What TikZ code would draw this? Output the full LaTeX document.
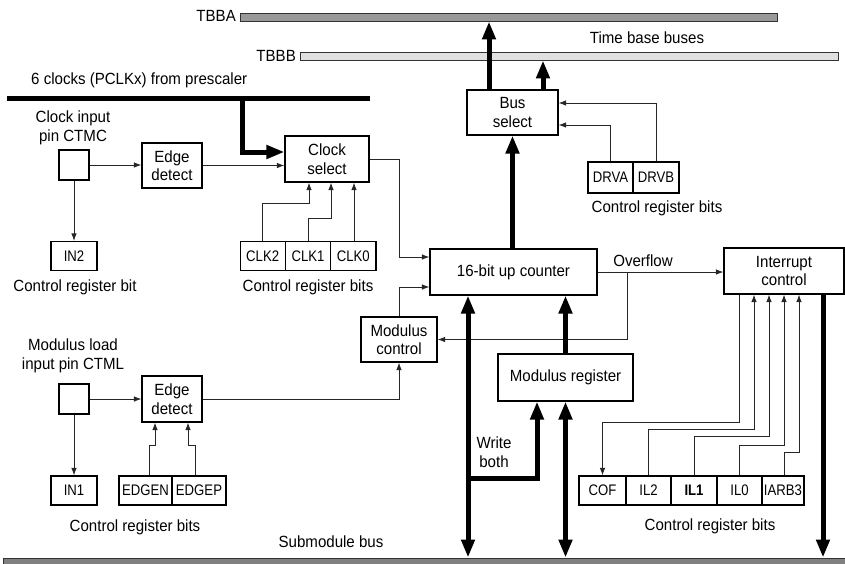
\documentclass[tikz,border=0pt]{standalone}
\usepackage{fontspec}
\setmainfont[FakeStretch=0.93]{Liberation Sans}
\newfontfamily\regfont[FakeStretch=0.86]{Liberation Sans}
\usetikzlibrary{arrows.meta}
\begin{document}
\begin{tikzpicture}[x=1pt,y=-1pt,
  every node/.style={font=\fontsize{16.2}{18.5}\selectfont},
  box/.style={draw, line width=1.1pt, inner sep=0pt, align=center},
  reg/.style={box, minimum height=29, font=\regfont\fontsize{15.3}{17}\selectfont},
  lbl/.style={inner sep=0pt, align=center},
  arr/.style={draw=black!85, line width=0.9pt, -{Latex[length=7.5pt,width=5.5pt]}},
  tarr/.style={line width=5pt, -{Triangle[length=18pt,width=13pt]}},
  tdarr/.style={line width=5pt, {Triangle[length=18pt,width=13pt]}-{Triangle[length=18pt,width=13pt]}},
  bus/.style={draw=black!80, line width=0.9pt, inner sep=0pt}
]
\useasboundingbox (0,0) rectangle (845,563);

% buses
\node[bus, fill=black!40, minimum width=537, minimum height=8] (busA) at (508.5,17) {};
\node[bus, fill=black!12, minimum width=538, minimum height=8] (busB) at (569,56) {};
\node[lbl, anchor=east] (tbba) at (236,16) {TBBA};
\node[lbl, anchor=east] (tbbb) at (296,56) {TBBB};
\node[lbl] (tbl) at (647,38) {Time base buses};
\node[fill=black, inner sep=0pt, minimum width=363, minimum height=5] (clkbus) at (188.5,98) {};
\node[lbl, anchor=west] (clkl) at (31,80) {6 clocks (PCLKx) from prescaler};
\node[bus, fill=black!50, minimum width=845, minimum height=14] (sub) at (425.5,565) {};
\node[lbl] (subl) at (331,542) {Submodule bus};

% clock input side
\node[lbl] (ctmcl) at (73,128) {Clock input\\pin CTMC};
\node[box, minimum width=30, minimum height=30] (sq1) at (74,165) {};
\node[box, minimum width=60, minimum height=45] (ed1) at (172,165.5) {Edge\\detect};
\node[box, minimum width=84, minimum height=46] (cs) at (327,159) {Clock\\select};
\node[reg, minimum width=46] (in2) at (74,256) {IN2};
\node[lbl] (in2l) at (75,287) {Control register bit};
\node[reg, minimum width=45.3] (clk2) at (262.7,256) {CLK2};
\node[reg, minimum width=45.3] (clk1) at (308,256) {CLK1};
\node[reg, minimum width=45.3] (clk0) at (353.3,256) {CLK0};
\node[lbl] (clkl2) at (308,287) {Control register bits};

% bus select
\node[box, minimum width=91, minimum height=45] (bsel) at (512.5,112.5) {Bus\\select};
\node[reg, minimum width=45, minimum height=31] (drva) at (610.5,177.5) {DRVA};
\node[reg, minimum width=46, minimum height=31] (drvb) at (656,177.5) {DRVB};
\node[lbl] (drvl) at (657,208) {Control register bits};

% counter etc
\node[box, minimum width=167, minimum height=46] (ctr) at (513.5,272) {16-bit up counter};
\node[box, minimum width=120, minimum height=46] (intc) at (784,271) {Interrupt\\control};
\node[box, minimum width=76, minimum height=45] (modc) at (399,339.5) {Modulus\\control};
\node[box, minimum width=135, minimum height=47] (modr) at (565.5,377.5) {Modulus register};
\node[lbl] (ovl) at (643,261) {Overflow};
\node[lbl] (wbl) at (494,452) {Write\\both};

% modulus load side
\node[lbl] (ctmll) at (73,356) {Modulus load\\input pin CTML};
\node[box, minimum width=30, minimum height=30] (sq2) at (74,399) {};
\node[box, minimum width=60, minimum height=46] (ed2) at (172,399) {Edge\\detect};
\node[reg, minimum width=46] (in1) at (74,490.5) {IN1};
\node[reg, minimum width=53] (edgen) at (145.5,490.5) {EDGEN};
\node[reg, minimum width=54] (edgep) at (199,490.5) {EDGEP};
\node[lbl] (edl) at (135,527) {Control register bits};

% interrupt register bits
\node[reg, minimum width=47] (cof) at (602.5,490.5) {COF};
\node[reg, minimum width=45] (il2) at (648.5,490.5) {IL2};
\node[reg, minimum width=46] (il1) at (694,490.5) {\bfseries IL1};
\node[reg, minimum width=45] (il0) at (739.5,490.5) {IL0};
\node[reg, minimum width=42] (iarb) at (783,490.5) {IARB3};
\node[lbl] (intl) at (710,526) {Control register bits};

% coordinates
\coordinate (cb) at (242,98);
\coordinate (ov) at (627,272);
\coordinate (wb) at (468,478);

% thin connectors
\draw[arr] (sq1.east) -- (sq1.east -| ed1.west);
\draw[arr] (ed1.east) -- (ed1.east -| cs.west);
\draw[arr] (sq1.south) -- (in2.north);
\draw[arr] (clk2.north) -- ++(0,-38) -| ([xshift=-18pt]cs.south);
\draw[arr] (clk1.north) -- ++(0,-23) -| ([xshift=4pt]cs.south);
\draw[arr] ([xshift=0.7pt]clk0.north) -- ([xshift=0.7pt]clk0.north |- cs.south);
\draw[arr] (cs.east) -- (cs.east -| modc.north) |- ([yshift=15pt]ctr.west);
\draw[arr] (modc.north) |- ([yshift=-15pt]ctr.west);
\draw[arr] (ctr.east) -- (ctr.east -| intc.west);
\draw[arr] (ov) |- (modc.east);
\draw[arr] (drva.north) |- ([yshift=-12.5pt]bsel.east);
\draw[arr] (drvb.north) |- ([yshift=9.5pt]bsel.east);
\draw[arr] (sq2.east) -- (sq2.east -| ed2.west);
\draw[arr] (sq2.south) -- (in1.north);
\draw[arr] (ed2.east) -| (modc.south);
\draw[arr] ([xshift=3.5pt]edgen.north) -- ++(0,-30) -| ([xshift=-17pt]ed2.south);
\draw[arr] ([xshift=-4pt]edgep.north) -- ++(0,-30) -| ([xshift=16pt]ed2.south);
\draw[arr] ([xshift=-45pt]intc.south) -- ++(0,128) -| (cof.north);
\draw[arr] (il2.north) -- ++(0,-46) -| ([xshift=-30pt]intc.south);
\draw[arr] (il1.north) -- ++(0,-39) -| ([xshift=-15pt]intc.south);
\draw[arr] (il0.north) -- ++(0,-30) -| (intc.south);
\draw[arr] ([xshift=1pt]iarb.north) -- ++(0,-23) -| ([xshift=15pt]intc.south);

% thick connectors
\draw[tarr] (cb) |- ([yshift=7pt]cs.west);
\draw[tarr] (bsel.south |- ctr.north) -- (bsel.south);
\draw[tarr] ([xshift=-23.5pt]bsel.north) -- ([xshift=-23.5pt]bsel.north |- busA.south);
\draw[tarr] ([xshift=30.5pt]bsel.north) -- ([xshift=30.5pt]bsel.north |- busB.south);
\draw[tarr] (modr.north) -- (modr.north |- ctr.south);
\draw[tdarr] ([xshift=-45.5pt]ctr.south |- sub.north) -- ([xshift=-45.5pt]ctr.south);
\draw[tarr] (wb) -| ([xshift=-28.5pt]modr.south);
\draw[tdarr] (modr.south |- sub.north) -- (modr.south);
\draw[tarr] ([xshift=39pt]intc.south) -- ([xshift=39pt]intc.south |- sub.north);
\end{tikzpicture}
\end{document}
